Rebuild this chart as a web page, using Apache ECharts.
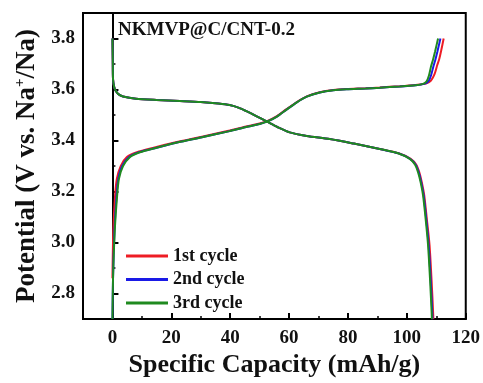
<!DOCTYPE html>
<html>
<head>
<meta charset="utf-8">
<script src="https://cdn.jsdelivr.net/npm/echarts@6/dist/echarts.min.js"></script>
<style>
  html, body { margin: 0; padding: 0; background: #fff; }
  #chart { width: 483px; height: 383px; }
</style>
</head>
<body>
<div id="chart"></div>
<script>
const cycleNames = ['1st cycle', '2nd cycle', '3rd cycle'];
const cycleColors = ['#ee1c24', '#1a1ae6', '#1f8a1f'];

// charge branches (capacity, potential)
const charge1X = [0, 0.3, 0.9, 1.5, 2.8, 4.9, 8.3, 14, 21.5, 30, 39.8, 45, 50, 52.5, 56, 59, 62.5, 66, 70.4, 75, 79.5, 86, 90.8, 97.6, 103, 106.5, 108.2, 109.4, 110.3, 111, 111.7, 112.5];
const charge1Y = [2.86, 3.05, 3.185, 3.25, 3.30, 3.335, 3.354, 3.372, 3.393, 3.414, 3.439, 3.454, 3.467, 3.476, 3.497, 3.522, 3.55, 3.573, 3.589, 3.598, 3.602, 3.605, 3.608, 3.613, 3.618, 3.623, 3.635, 3.66, 3.695, 3.72, 3.755, 3.80];
const charge2X = [0, 0.2, 0.7, 1.4, 2.0, 3.3, 5.6, 9.0, 15, 22.3, 30, 39.8, 45, 50, 52.5, 56, 59, 62.5, 66, 70.4, 75, 79.5, 86, 90.8, 97.6, 103, 105.9, 107.3, 108.2, 109.0, 109.7, 110.4, 111.4];
const charge2Y = [2.70, 2.86, 3.05, 3.185, 3.25, 3.30, 3.335, 3.354, 3.372, 3.393, 3.412, 3.437, 3.452, 3.465, 3.474, 3.495, 3.52, 3.549, 3.572, 3.588, 3.597, 3.601, 3.604, 3.607, 3.612, 3.617, 3.622, 3.632, 3.655, 3.69, 3.718, 3.75, 3.80];
const charge3X = [0, 0.2, 0.8, 1.6, 2.2, 3.6, 5.9, 9.3, 15, 22.3, 30, 39.8, 45, 50, 52.5, 56, 59, 62.5, 66, 70.4, 75, 79.5, 86, 90.8, 97.6, 103, 105.5, 106.7, 107.5, 108.2, 108.9, 109.6, 110.6];
const charge3Y = [2.70, 2.86, 3.05, 3.185, 3.25, 3.30, 3.335, 3.354, 3.372, 3.393, 3.412, 3.437, 3.452, 3.465, 3.474, 3.495, 3.52, 3.549, 3.572, 3.588, 3.597, 3.601, 3.604, 3.607, 3.612, 3.617, 3.622, 3.632, 3.655, 3.69, 3.718, 3.75, 3.80];

// discharge branches
const discharge1X = [0, 0.1, 0.2, 0.6, 1.1, 2.0, 3.6, 8, 15, 22.9, 30, 36, 39.8, 43, 45.5, 49, 52.5, 56, 60.2, 66, 73.8, 82, 90.8, 97.2, 101.3, 103.2, 104.2, 105.1, 105.9, 106.8, 107.7, 108.4, 108.9, 109.0];
const discharge2X = [0, 0.1, 0.2, 0.6, 1.1, 2.0, 3.6, 8, 15, 22.9, 30, 36, 39.8, 43, 45.5, 49, 52.5, 56, 60.2, 66, 73.8, 82, 90.8, 97.1, 101.1, 103.0, 104.0, 104.9, 105.7, 106.6, 107.4, 108.1, 108.6, 108.7];
const discharge3X = [0, 0.1, 0.2, 0.6, 1.1, 2.0, 3.6, 8, 15, 22.9, 30, 36, 39.8, 43, 45.5, 49, 52.5, 56, 60.2, 66, 73.8, 82, 90.8, 97, 101, 102.8, 103.8, 104.7, 105.5, 106.4, 107.2, 107.9, 108.4, 108.5];
const dischargeY = [3.80, 3.72, 3.64, 3.61, 3.595, 3.582, 3.573, 3.564, 3.559, 3.555, 3.551, 3.545, 3.539, 3.528, 3.515, 3.495, 3.474, 3.453, 3.432, 3.418, 3.406, 3.388, 3.367, 3.35, 3.328, 3.305, 3.276, 3.235, 3.185, 3.09, 2.99, 2.85, 2.73, 2.70];

const xTickValues = [0, 20, 40, 60, 80, 100, 120];
const yTickValues = [2.8, 3.0, 3.2, 3.4, 3.6, 3.8];

const branches = [
  [charge1X, charge1Y, discharge1X, dischargeY],
  [charge2X, charge2Y, discharge2X, dischargeY],
  [charge3X, charge3Y, discharge3X, dischargeY]
];

const font = "'Liberation Serif', 'Times New Roman', serif";

function zip(xs, ys) {
  return xs.map((x, i) => [x, ys[i]]);
}

const series = [];
branches.forEach((b, i) => {
  [zip(b[0], b[1]), zip(b[2], b[3])].forEach((data) => {
    series.push({
      name: cycleNames[i],
      type: 'line',
      xAxisIndex: 0,
      yAxisIndex: 0,
      data: data,
      symbol: 'none',
      smooth: 0.25,
      lineStyle: { color: cycleColors[i], width: 2 },
      itemStyle: { color: cycleColors[i] },
      z: 2 + i
    });
  });
});

const chart = echarts.init(document.getElementById('chart'));
chart.setOption({
  animation: false,
  grid: {
    left: 83, right: 17, top: 13, bottom: 62,
    show: true, borderColor: '#000', borderWidth: 2
  },
  title: {
    text: 'NKMVP@C/CNT-0.2',
    left: 113, top: 16,
    textStyle: { fontFamily: font, fontWeight: 'bold', fontSize: 19, color: '#111' }
  },
  legend: {
    orient: 'vertical',
    left: 126, top: 247, padding: 0,
    icon: 'rect',
    itemWidth: 42, itemHeight: 3, itemGap: 5.5,
    data: cycleNames,
    textStyle: { fontFamily: font, fontWeight: 'bold', fontSize: 18, lineHeight: 18, color: '#111' }
  },
  xAxis: [
    {
      type: 'value', min: -10, max: 120,
      name: 'Specific Capacity (mAh/g)',
      nameLocation: 'middle', nameGap: 28,
      nameTextStyle: { fontFamily: font, fontWeight: 'bold', fontSize: 26, color: '#111' },
      axisLine: { lineStyle: { color: '#000', width: 2 } },
      axisTick: { inside: true, length: 6, customValues: xTickValues, lineStyle: { color: '#000', width: 2 } },
      axisLabel: {
        customValues: xTickValues, margin: 9,
        fontFamily: font, fontWeight: 'bold', fontSize: 19, color: '#111'
      },
      splitLine: { show: false }
    },
    {
      type: 'value', min: -10, max: 120, interval: 10,
      position: 'bottom',
      axisLine: { show: false },
      axisTick: { inside: true, length: 3, lineStyle: { color: '#000', width: 1.5 } },
      axisLabel: { show: false },
      splitLine: { show: false }
    }
  ],
  yAxis: [
    {
      type: 'value', min: 2.7, max: 3.9,
      name: '{a|Potential (V vs. Na}{s|+}{a|/Na)}',
      nameLocation: 'middle', nameGap: 40,
      nameTextStyle: {
        rich: {
          a: { fontFamily: font, fontWeight: 'bold', fontSize: 27, color: '#111' },
          s: { fontFamily: font, fontWeight: 'bold', fontSize: 15, color: '#111', padding: [0, 0, 13, 0] }
        }
      },
      axisLine: { lineStyle: { color: '#000', width: 2 } },
      axisTick: { inside: true, length: 6, customValues: yTickValues, lineStyle: { color: '#000', width: 2 } },
      axisLabel: {
        customValues: yTickValues, margin: 8,
        formatter: (v) => v.toFixed(1),
        fontFamily: font, fontWeight: 'bold', fontSize: 19, color: '#111'
      },
      splitLine: { show: false }
    },
    {
      type: 'value', min: 2.7, max: 3.9, interval: 0.1,
      position: 'left',
      axisLine: { show: false },
      axisTick: { inside: true, length: 3, lineStyle: { color: '#000', width: 1.5 } },
      axisLabel: { show: false },
      splitLine: { show: false }
    }
  ],
  series: series
});
</script>
</body>
</html>
